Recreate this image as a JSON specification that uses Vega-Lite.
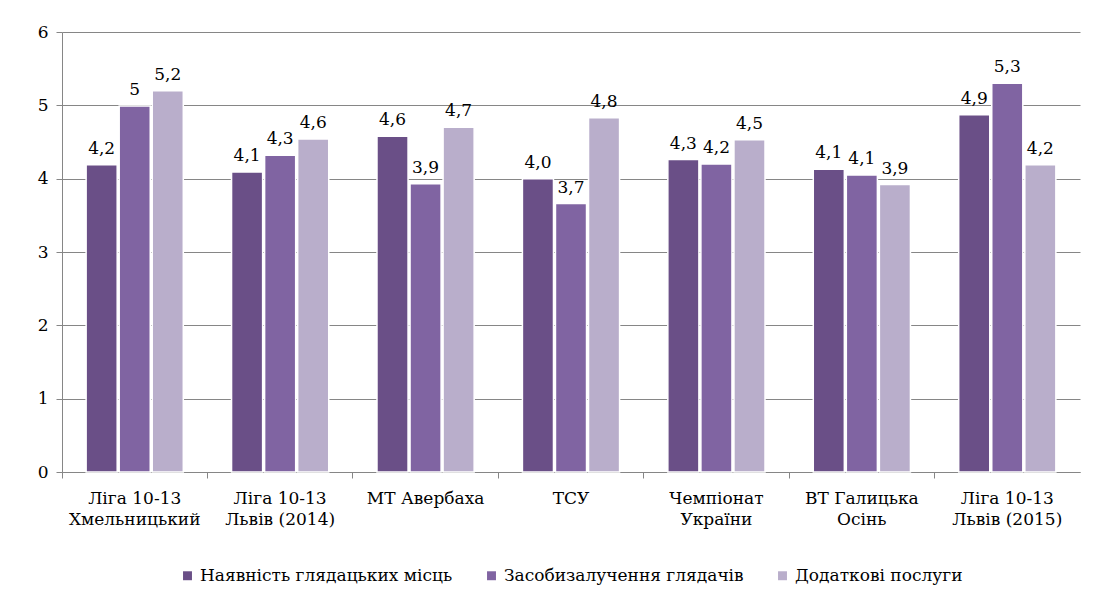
{
  "$schema": "https://vega.github.io/schema/vega-lite/v6.json",
  "width": 1018,
  "height": 440,
  "autosize": {"type": "none"},
  "padding": {"left": 62, "top": 32, "right": 15, "bottom": 129},
  "background": "white",
  "config": {
    "font": "DejaVu Serif",
    "view": {"stroke": null},
    "axis": {"labelFont": "DejaVu Serif", "labelFontSize": 17},
    "legend": {"labelFont": "DejaVu Serif", "labelFontSize": 17, "layout": {"bottom": {"anchor": "middle"}}},
    "text": {"font": "DejaVu Serif", "fontSize": 17}
  },
  "data": {
    "values": [
      {"cat": "Ліга 10-13|Хмельницький", "series": "Наявність глядацьких місць", "order": 1, "value": 4.19, "label": "4,2"},
      {"cat": "Ліга 10-13|Хмельницький", "series": "Засобизалучення глядачів", "order": 2, "value": 4.99, "label": "5"},
      {"cat": "Ліга 10-13|Хмельницький", "series": "Додаткові послуги", "order": 3, "value": 5.2, "label": "5,2"},
      {"cat": "Ліга 10-13|Львів (2014)", "series": "Наявність глядацьких місць", "order": 1, "value": 4.09, "label": "4,1"},
      {"cat": "Ліга 10-13|Львів (2014)", "series": "Засобизалучення глядачів", "order": 2, "value": 4.32, "label": "4,3"},
      {"cat": "Ліга 10-13|Львів (2014)", "series": "Додаткові послуги", "order": 3, "value": 4.54, "label": "4,6"},
      {"cat": "МТ Авербаха", "series": "Наявність глядацьких місць", "order": 1, "value": 4.58, "label": "4,6"},
      {"cat": "МТ Авербаха", "series": "Засобизалучення глядачів", "order": 2, "value": 3.93, "label": "3,9"},
      {"cat": "МТ Авербаха", "series": "Додаткові послуги", "order": 3, "value": 4.7, "label": "4,7"},
      {"cat": "ТСУ", "series": "Наявність глядацьких місць", "order": 1, "value": 4.0, "label": "4,0"},
      {"cat": "ТСУ", "series": "Засобизалучення глядачів", "order": 2, "value": 3.66, "label": "3,7"},
      {"cat": "ТСУ", "series": "Додаткові послуги", "order": 3, "value": 4.83, "label": "4,8"},
      {"cat": "Чемпіонат|України", "series": "Наявність глядацьких місць", "order": 1, "value": 4.26, "label": "4,3"},
      {"cat": "Чемпіонат|України", "series": "Засобизалучення глядачів", "order": 2, "value": 4.2, "label": "4,2"},
      {"cat": "Чемпіонат|України", "series": "Додаткові послуги", "order": 3, "value": 4.53, "label": "4,5"},
      {"cat": "ВТ Галицька|Осінь", "series": "Наявність глядацьких місць", "order": 1, "value": 4.13, "label": "4,1"},
      {"cat": "ВТ Галицька|Осінь", "series": "Засобизалучення глядачів", "order": 2, "value": 4.05, "label": "4,1"},
      {"cat": "ВТ Галицька|Осінь", "series": "Додаткові послуги", "order": 3, "value": 3.92, "label": "3,9"},
      {"cat": "Ліга 10-13|Львів (2015)", "series": "Наявність глядацьких місць", "order": 1, "value": 4.87, "label": "4,9"},
      {"cat": "Ліга 10-13|Львів (2015)", "series": "Засобизалучення глядачів", "order": 2, "value": 5.3, "label": "5,3"},
      {"cat": "Ліга 10-13|Львів (2015)", "series": "Додаткові послуги", "order": 3, "value": 4.19, "label": "4,2"}
    ]
  },
  "encoding": {
    "x": {
      "field": "cat",
      "type": "nominal",
      "sort": null,
      "scale": {"paddingInner": 0, "paddingOuter": 0},
      "axis": {
        "title": null,
        "labelAngle": 0,
        "labelExpr": "split(datum.value, '|')",
        "labelColor": "#000000",
        "labelPadding": 12,
        "labelLineHeight": 21,
        "bandPosition": 0,
        "domainColor": "#868686",
        "tickColor": "#868686",
        "tickSize": 6,
        "grid": false
      }
    },
    "xOffset": {
      "field": "series",
      "type": "nominal",
      "sort": ["Наявність глядацьких місць", "Засобизалучення глядачів", "Додаткові послуги"],
      "scale": {"paddingInner": 0.06, "paddingOuter": 0.73}
    },
    "y": {
      "field": "value",
      "type": "quantitative",
      "scale": {"domain": [0, 6]},
      "axis": {
        "title": null,
        "values": [0, 1, 2, 3, 4, 5, 6],
        "labelColor": "#000000",
        "labelPadding": 8,
        "domainColor": "#868686",
        "tickColor": "#868686",
        "tickSize": 6,
        "gridColor": "#868686",
        "gridWidth": 1
      }
    }
  },
  "layer": [
    {
      "mark": {"type": "bar", "stroke": "white", "strokeWidth": 1.5},
      "encoding": {
        "color": {
          "field": "series",
          "type": "nominal",
          "sort": ["Наявність глядацьких місць", "Засобизалучення глядачів", "Додаткові послуги"],
          "scale": {"range": ["#6A4F87", "#8064A2", "#B9AECB"]},
          "legend": {
            "title": null,
            "orient": "bottom",
            "direction": "horizontal",
            "symbolType": "square",
            "symbolSize": 80,
            "symbolStrokeWidth": 0,
            "labelColor": "#000000",
            "labelLimit": 400,
            "columnPadding": 30,
            "labelOffset": 4,
            "offset": 40
          }
        }
      }
    },
    {
      "mark": {"type": "text", "baseline": "bottom", "dy": -7, "color": "#000000"},
      "encoding": {
        "text": {"field": "label"}
      }
    }
  ]
}
